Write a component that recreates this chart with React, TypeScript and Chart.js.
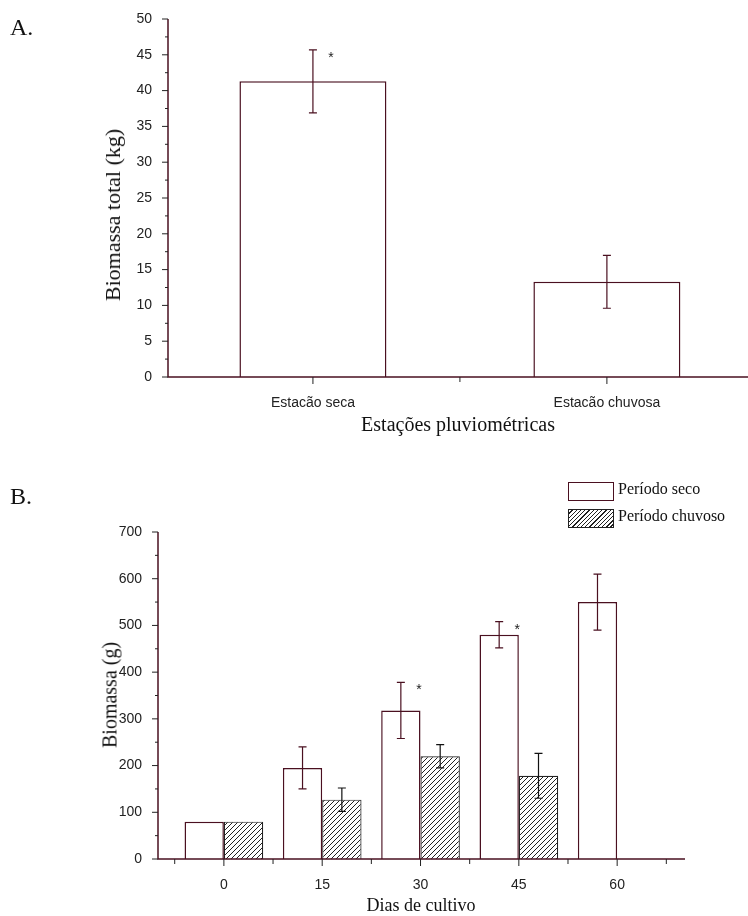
import { useEffect, useRef } from 'react';
import { Chart, registerables } from 'chart.js';

Chart.register(...registerables);

// Panel A
const seasons = ['Estação seca', 'Estação chuvosa'];
const totalBiomass = [41.3, 13.3];
const totalErr = [4.4, 3.7];
const totalStar = [true, false];

// Panel B
const days = ['0', '15', '30', '45', '60'];
const dryBiomass = [80, 195, 318, 480, 550];
const dryErr = [0, 45, 60, 28, 60];
const dryStar = [false, false, true, true, false];
const wetBiomass = [80, 127, 220, 178, null];
const wetErr = [0, 25, 25, 48, 0];

const AXIS = '#4a1020';
const TICK_FONT = { family: 'Liberation Sans', size: 14 };

function hatch(): CanvasPattern | string {
  const c = document.createElement('canvas');
  c.width = 5;
  c.height = 5;
  const g = c.getContext('2d');
  if (!g) return '#999';
  g.fillStyle = '#fff';
  g.fillRect(0, 0, 5, 5);
  g.strokeStyle = '#222';
  g.lineWidth = 1;
  g.beginPath();
  g.moveTo(0, 5);
  g.lineTo(5, 0);
  g.moveTo(-1, 1);
  g.lineTo(1, -1);
  g.moveTo(4, 6);
  g.lineTo(6, 4);
  g.stroke();
  return g.createPattern(c, 'repeat') || '#999';
}

const extras = {
  id: 'extras',
  afterDatasetsDraw(chart: any) {
    const ctx = chart.ctx;
    const xs = chart.scales.x;
    const ys = chart.scales.y;
    const area = chart.chartArea;
    ctx.save();
    // error bars + stars
    chart.data.datasets.forEach((ds: any, di: number) => {
      const meta = chart.getDatasetMeta(di);
      meta.data.forEach((el: any, i: number) => {
        const v = ds.data[i].y;
        if (v == null) return;
        const e = ds.err[i];
        if (e > 0) {
          const top = ys.getPixelForValue(v + e);
          const bot = ys.getPixelForValue(v - e);
          ctx.strokeStyle = ds.errColor;
          ctx.lineWidth = 1.2;
          ctx.beginPath();
          ctx.moveTo(el.x, top);
          ctx.lineTo(el.x, bot);
          ctx.moveTo(el.x - 4, top);
          ctx.lineTo(el.x + 4, top);
          ctx.moveTo(el.x - 4, bot);
          ctx.lineTo(el.x + 4, bot);
          ctx.stroke();
        }
        if (ds.star && ds.star[i]) {
          ctx.fillStyle = '#222';
          ctx.font = '14px Liberation Sans';
          ctx.textAlign = 'center';
          ctx.fillText('*', el.x + 18, ys.getPixelForValue(v + e) + 12);
        }
      });
    });
    // axes
    ctx.strokeStyle = AXIS;
    ctx.lineWidth = 1.5;
    ctx.beginPath();
    ctx.moveTo(area.left, area.top);
    ctx.lineTo(area.left, area.bottom);
    ctx.lineTo(area.right, area.bottom);
    ctx.stroke();
    ctx.lineWidth = 1;
    ctx.strokeStyle = '#222';
    ctx.beginPath();
    const step = chart.options.scales.y.ticks.stepSize;
    for (let v = 0; v <= ys.max + 0.001; v += step / 2) {
      const y = ys.getPixelForValue(v);
      const major = Math.abs(v / step - Math.round(v / step)) < 0.01;
      ctx.moveTo(area.left, y);
      ctx.lineTo(area.left - (major ? 6 : 3), y);
    }
    for (let i = -0.5; i <= xs.max; i += 0.5) {
      const x = xs.getPixelForValue(i);
      if (x < area.left + 2) continue;
      ctx.moveTo(x, area.bottom);
      ctx.lineTo(x, area.bottom + (Number.isInteger(i) ? 7 : 5));
    }
    ctx.stroke();
    ctx.restore();
  },
};

function makeScales(labels: string[], min: number, max: number, yMax: number, step: number) {
  return {
    x: {
      type: 'linear',
      offset: false,
      min,
      max,
      afterBuildTicks: (s: any) => {
        s.ticks = labels.map((_, i) => ({ value: i }));
      },
      afterFit: (s: any) => {
        s.height = 30;
      },
      ticks: { callback: (v: number) => labels[v] ?? '', autoSkip: false, maxRotation: 0, padding: 10, color: '#222', font: TICK_FONT },
      grid: { display: false, offset: false },
      border: { display: false },
    },
    y: {
      min: 0,
      max: yMax,
      afterFit: (s: any) => {
        s.width = 50;
      },
      ticks: { stepSize: step, padding: 8, color: '#222', font: TICK_FONT },
      grid: { display: false },
      border: { display: false },
    },
  };
}

export default function App() {
  const refA = useRef<HTMLCanvasElement>(null);
  const refB = useRef<HTMLCanvasElement>(null);

  useEffect(() => {
    const charts: Chart[] = [];
    if (refA.current) {
      charts.push(
        new Chart(refA.current, {
          type: 'bar',
          data: {
            datasets: [
              {
                label: 'Biomassa total',
                data: totalBiomass.map((y, i) => ({ x: i, y })),
                err: totalErr,
                star: totalStar,
                errColor: '#4a1020',
                backgroundColor: '#fff',
                borderColor: AXIS,
                borderWidth: 1.5,
                categoryPercentage: 0.5,
                barPercentage: 1,
              } as any,
            ],
          },
          options: {
            animation: false,
            responsive: false,
            layout: { padding: { left: 118, top: 19, right: 0, bottom: 33 } },
            plugins: { legend: { display: false }, tooltip: { enabled: false } },
            scales: makeScales(seasons, -0.493, 1.48, 50, 5) as any,
          },
          plugins: [extras],
        })
      );
    }
    if (refB.current) {
      charts.push(
        new Chart(refB.current, {
          type: 'bar',
          data: {
            datasets: [
              {
                label: 'Período seco',
                data: dryBiomass.map((y, i) => ({ x: i, y })),
                err: dryErr,
                star: dryStar,
                errColor: '#4a1020',
                backgroundColor: '#fff',
                borderColor: AXIS,
                borderWidth: 1.5,
                categoryPercentage: 0.8,
                barPercentage: 1,
              } as any,
              {
                label: 'Período chuvoso',
                data: wetBiomass.map((y, i) => ({ x: i, y })),
                err: wetErr,
                errColor: '#111',
                backgroundColor: hatch(),
                borderColor: '#222',
                borderWidth: 1.2,
                categoryPercentage: 0.8,
                barPercentage: 1,
              } as any,
            ],
          },
          options: {
            animation: false,
            responsive: false,
            layout: { padding: { left: 108, top: 72, right: 63, bottom: 27 } },
            plugins: { legend: { display: false }, tooltip: { enabled: false } },
            scales: makeScales(days, -0.67, 4.69, 700, 100) as any,
          },
          plugins: [extras],
        })
      );
    }
    return () => charts.forEach((c) => c.destroy());
  }, []);

  const serif = { fontFamily: 'Liberation Serif', color: '#111', position: 'absolute' as const };
  const box = { position: 'absolute' as const, left: 568, width: 44, height: 17, border: '1px solid #222' };

  return (
    <div style={{ position: 'absolute', left: 0, top: 0, width: 748, height: 916, background: '#fff', overflow: 'hidden' }}>
      <canvas ref={refA} width={748} height={440} style={{ position: 'absolute', left: 0, top: 0 }} />
      <canvas ref={refB} width={748} height={456} style={{ position: 'absolute', left: 0, top: 460 }} />
      <div style={{ ...serif, left: 10, top: 14, fontSize: 24 }}>A.</div>
      <div style={{ ...serif, left: 10, top: 483, fontSize: 24 }}>B.</div>
      <div style={{ ...serif, left: 113, top: 215, fontSize: 22, whiteSpace: 'nowrap', transform: 'translate(-50%, -50%) rotate(-90deg)' }}>
        Biomassa total (kg)
      </div>
      <div style={{ ...serif, left: 458, top: 424, fontSize: 20, whiteSpace: 'nowrap', transform: 'translate(-50%, -50%)' }}>
        Estações pluviométricas
      </div>
      <div style={{ ...serif, left: 110, top: 695, fontSize: 20, whiteSpace: 'nowrap', transform: 'translate(-50%, -50%) rotate(-90deg)' }}>
        Biomassa (g)
      </div>
      <div style={{ ...serif, left: 421, top: 905, fontSize: 18, whiteSpace: 'nowrap', transform: 'translate(-50%, -50%)' }}>
        Dias de cultivo
      </div>
      <div style={{ ...box, top: 482, background: '#fff', borderColor: AXIS }} />
      <div style={{ ...box, top: 509, background: 'repeating-linear-gradient(135deg, #fff 0 2px, #222 2px 3px)' }} />
      <div style={{ ...serif, left: 618, top: 480, fontSize: 16, whiteSpace: 'nowrap' }}>Período seco</div>
      <div style={{ ...serif, left: 618, top: 507, fontSize: 16, whiteSpace: 'nowrap' }}>Período chuvoso</div>
    </div>
  );
}
